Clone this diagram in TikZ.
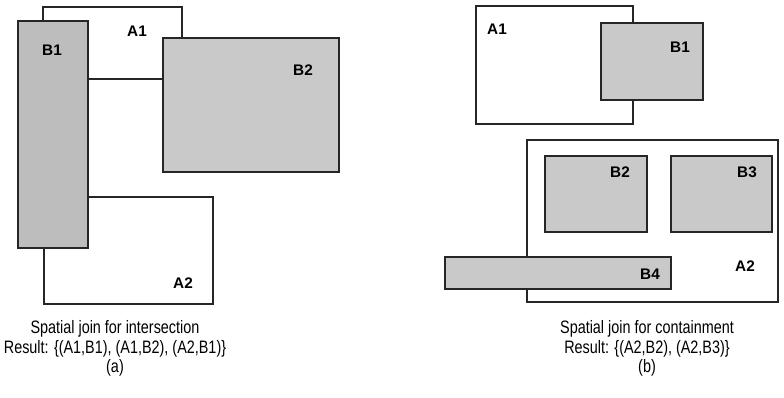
\documentclass[tikz,border=0pt]{standalone}
\usepackage{fontspec}
\setmainfont{Liberation Sans}
\newfontfamily\capfont[FakeStretch=0.8]{Liberation Sans}

\tikzset{
  region/.style={draw=black!85, line width=0.9pt, fill=white},
  object/.style={region, fill=gray!42},
  objectdark/.style={region, fill=gray!52},
  lbl/.style={font=\bfseries\fontsize{11.5}{12}\selectfont, inner sep=0pt},
  caption/.style={font=\capfont\fontsize{13.5}{14.8}\selectfont, align=center, inner sep=0pt, anchor=north}
}

\begin{document}
\begin{tikzpicture}[x=0.75pt, y=-0.75pt]
            \useasboundingbox (0,0) rectangle (784,397);
            % (a) intersection
            \draw[region] (43,7) rectangle (182,79);
            \draw[region] (44,197) rectangle (213,304);
            \draw[objectdark] (18,21) rectangle (88,248);
            \draw[object] (163,38) rectangle (339,172);
            \node[lbl] (la1) at (137,31) {A1};
            \node[lbl] (lb1) at (52,50) {B1};
            \node[lbl] (lb2) at (303,70) {B2};
            \node[lbl] (la2) at (183,283) {A2};
            \node[caption] (capa) at (115,320) {Spatial join for intersection\\ Result: \{(A1,B1), (A1,B2), (A2,B1)\}\\ (a)};
            % (b) containment
            \draw[region] (476,6) rectangle (633,124);
            \draw[object] (601,23) rectangle (703,100);
            \draw[region] (527,140) rectangle (778,302);
            \draw[object] (545,156) rectangle (647,232);
            \draw[object] (671,156) rectangle (772,232);
            \draw[object] (445,257) rectangle (671,289);
            \node[lbl] (ra1) at (497,29) {A1};
            \node[lbl] (rb1) at (680,47) {B1};
            \node[lbl] (rb2) at (620,172) {B2};
            \node[lbl] (rb3) at (747,172) {B3};
            \node[lbl] (rb4) at (650,274) {B4};
            \node[lbl] (ra2) at (745,266) {A2};
            \node[caption] (capb) at (647,320) {Spatial join for containment\\ Result: \{(A2,B2), (A2,B3)\}\\ (b)};
        \end{tikzpicture}
\end{document}
